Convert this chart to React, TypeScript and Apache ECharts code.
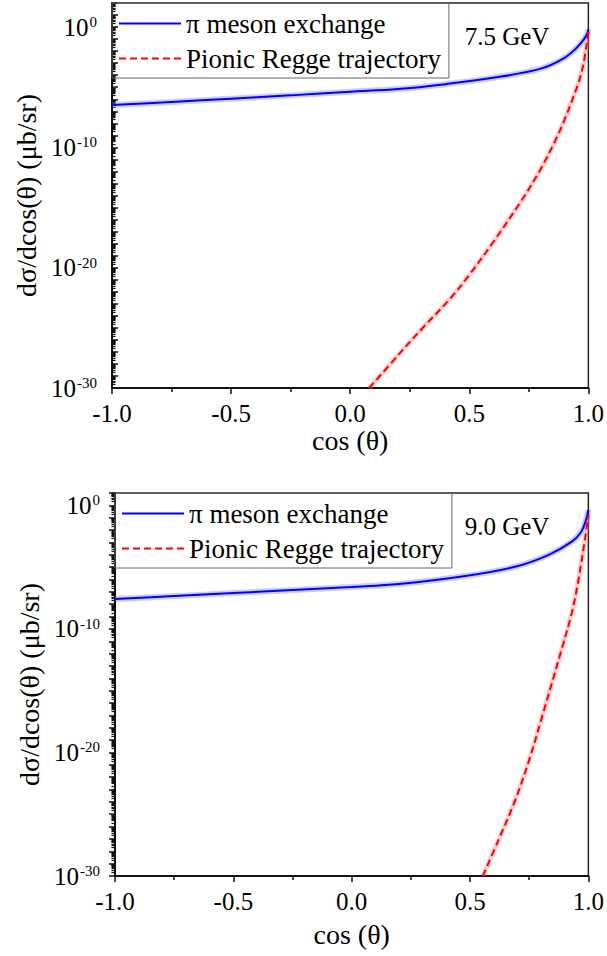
import React, { useEffect, useRef } from "react";
import * as echarts from "echarts";

// ---- data ----
// cross sections in μb/sr versus cos(θ)
const topPiCos = [-1, -0.75, -0.5, -0.25, 0, 0.2, 0.4, 0.6, 0.8, 0.9, 0.95, 0.98, 0.995, 1.0];
const topPiVal = [3.3e-7, 6.0e-7, 1.12e-6, 2.1e-6, 4.2e-6, 7.1e-6, 1.8e-5, 6.0e-5, 3.5e-4, 2.8e-3, 1.8e-2, 8.9e-2, 0.28, 0.65];
const topReggeCos = [0.08, 0.2, 0.3, 0.414, 0.5, 0.6, 0.72, 0.8, 0.862, 0.9, 0.958, 0.98, 1.0];
const topReggeVal = [1e-30, 5e-28, 8e-26, 2e-23, 2.5e-21, 1.3e-18, 4e-15, 1.6e-12, 4e-10, 2e-8, 2.2e-5, 1e-3, 0.4];

const botPiCos = [-1, -0.75, -0.5, -0.25, 0, 0.2, 0.48, 0.69, 0.83, 0.93, 0.97, 0.99, 1.0];
const botPiVal = [2.6e-8, 4.5e-8, 7.9e-8, 1.4e-7, 2.5e-7, 4.3e-7, 1.9e-6, 1.07e-5, 9.5e-5, 1.15e-3, 7.4e-3, 6.5e-2, 0.42];
const botReggeCos = [0.554, 0.62, 0.691, 0.75, 0.8, 0.886, 0.93, 0.958, 0.987, 1.0];
const botReggeVal = [1e-30, 8e-28, 1.4e-24, 2.5e-21, 4e-18, 1.9e-12, 2e-9, 9e-7, 2.8e-3, 0.16];

const xTicks = { min: -1, max: 1, step: 0.5 };
const yLabelExps = [0, -10, -20, -30];
const panelLabels = ["7.5 GeV", "9.0 GeV"];
const seriesNames = ["π meson exchange", "Pionic Regge trajectory"];
const xTitle = "cos (θ)";
const yTitle = "dσ/dcos(θ) (μb/sr)";

const FONT = "Liberation Serif";

function toPairs(xs: number[], vs: number[]) {
  return xs.map((x, i) => [x, Math.log10(vs[i])]);
}

function minorList(min: number, max: number) {
  const out: number[] = [];
  for (let n = min; n < max; n++) {
    for (let k = 2; k <= 9; k++) {
      const v = n + Math.log10(k);
      if (v < max) out.push(v);
    }
  }
  return out;
}

function richText(size: number, lh?: number) {
  return { t: { fontFamily: FONT, fontSize: size, color: "#000", lineHeight: lh || size } };
}

export default function App() {
  const ref = useRef<HTMLDivElement>(null);
  useEffect(() => {
    document.body.style.margin = "0";
    const chart = echarts.init(ref.current!, null, { renderer: "svg" });

    const grids = [
      { left: 112, top: 3, width: 478, height: 385, yMin: -30, yMax: 2, inside: true, nameGapX: 34, nameGapY: 68 },
      { left: 115, top: 493, width: 475, height: 383, yMin: -30, yMax: 1, inside: false, nameGapX: 44, nameGapY: 71 },
    ];

    const xAxis: any[] = [];
    const yAxis: any[] = [];
    const series: any[] = [];
    const legend: any[] = [];
    const graphic: any[] = [];

    const datasets = [
      [toPairs(topPiCos, topPiVal), toPairs(topReggeCos, topReggeVal)],
      [toPairs(botPiCos, botPiVal), toPairs(botReggeCos, botReggeVal)],
    ];

    const lineCommon = {
      type: "line",
      smooth: 0.35,
      showSymbol: false,
      symbol: "none",
    };

    grids.forEach((g, gi) => {
      xAxis.push({
        type: "value",
        gridIndex: gi,
        min: xTicks.min,
        max: xTicks.max,
        interval: xTicks.step,
        axisLine: { show: true, onZero: false, lineStyle: { color: "#111", width: 2 } },
        axisTick: { show: true, length: 6, lineStyle: { color: "#111", width: 1.5 } },
        minorTick: { show: true, splitNumber: 2, length: 4, lineStyle: { color: "#111", width: 1.5 } },
        splitLine: { show: false },
        axisLabel: {
          margin: 13,
          formatter: (v: number) => `{t|${v.toFixed(1)}}`,
          rich: richText(25),
        },
        name: `{t|${xTitle}}`,
        nameLocation: "middle",
        nameGap: g.nameGapX,
        nameTextStyle: { rich: richText(28) },
      });
      yAxis.push({
        type: "value",
        gridIndex: gi,
        position: "left",
        min: g.yMin,
        max: g.yMax,
        interval: 1,
        axisLine: { show: true, onZero: false, lineStyle: { color: "#111", width: 2 } },
        axisTick: { show: true, inside: g.inside, length: 6, lineStyle: { color: "#111", width: 1.5 } },
        splitLine: { show: false },
        axisLabel: {
          customValues: yLabelExps,
          margin: 15,
          formatter: (v: number) => `{b|10}{s|${v}}`,
          rich: {
            b: { fontFamily: FONT, fontSize: 25, color: "#000", lineHeight: 25, verticalAlign: "bottom", padding: [7, 0, 0, 0] },
            s: { fontFamily: FONT, fontSize: 15, color: "#000", lineHeight: 15, verticalAlign: "top", padding: [0, 0, 0, 1] },
          },
        },
        name: `{t|${yTitle}}`,
        nameLocation: "middle",
        nameGap: g.nameGapY,
        nameTextStyle: { rich: richText(28) },
      });
      yAxis.push({
        type: "value",
        gridIndex: gi,
        position: "left",
        min: g.yMin,
        max: g.yMax,
        interval: 1,
        axisLine: { show: false, onZero: false },
        axisLabel: { show: false },
        splitLine: { show: false },
        axisTick: {
          show: true,
          inside: g.inside,
          length: 3.5,
          customValues: minorList(g.yMin, g.yMax),
          lineStyle: { color: "#111", width: 1.2 },
        },
      });

      const [pi, regge] = datasets[gi];
      const yIdx = gi * 2;
      series.push(
        {
          ...lineCommon,
          name: "band-pi-" + gi,
          xAxisIndex: gi,
          yAxisIndex: yIdx,
          data: pi,
          silent: true,
          z: 1,
          lineStyle: { color: "rgba(110,110,255,0.35)", width: 6 },
        },
        {
          ...lineCommon,
          name: "band-regge-" + gi,
          xAxisIndex: gi,
          yAxisIndex: yIdx,
          data: regge,
          silent: true,
          z: 1,
          lineStyle: { color: "rgba(255,120,120,0.35)", width: 5 },
        },
        {
          ...lineCommon,
          name: seriesNames[0],
          xAxisIndex: gi,
          yAxisIndex: yIdx,
          data: pi,
          z: 3,
          itemStyle: { color: "#0000ff" },
          lineStyle: { color: "#0000ff", width: 2 },
        },
        {
          ...lineCommon,
          name: seriesNames[1],
          xAxisIndex: gi,
          yAxisIndex: yIdx,
          data: regge,
          z: 3,
          itemStyle: { color: "#ff0000" },
          lineStyle: { color: "#ff0000", width: 2, type: [7, 4] },
        }
      );

      legend.push({
        data: seriesNames,
        orient: "vertical",
        left: g.left,
        top: g.top,
        padding: [7, 8, 6, 6],
        itemGap: 8,
        itemWidth: 62,
        itemHeight: 2,
        itemStyle: { opacity: 0 },
        borderColor: "#666",
        borderWidth: 1,
        selectedMode: false,
        formatter: (name: string) => `{t|${name}}`,
        textStyle: { rich: richText(27) },
      });

      graphic.push({
        type: "text",
        x: 507,
        y: g.top + 33,
        style: {
          text: panelLabels[gi],
          fill: "#000",
          font: `25px "Liberation Serif"`,
          textAlign: "center",
          textVerticalAlign: "middle",
        },
      });
    });

    chart.setOption({
      animation: false,
      grid: grids.map((g) => ({
        left: g.left,
        top: g.top,
        width: g.width,
        height: g.height,
        show: true,
        borderColor: "#222",
        borderWidth: 1.5,
        backgroundColor: "transparent",
      })),
      xAxis,
      yAxis,
      series,
      legend,
      graphic,
    });
    return () => chart.dispose();
  }, []);
  return <div ref={ref} style={{ width: 607, height: 956 }} />;
}
